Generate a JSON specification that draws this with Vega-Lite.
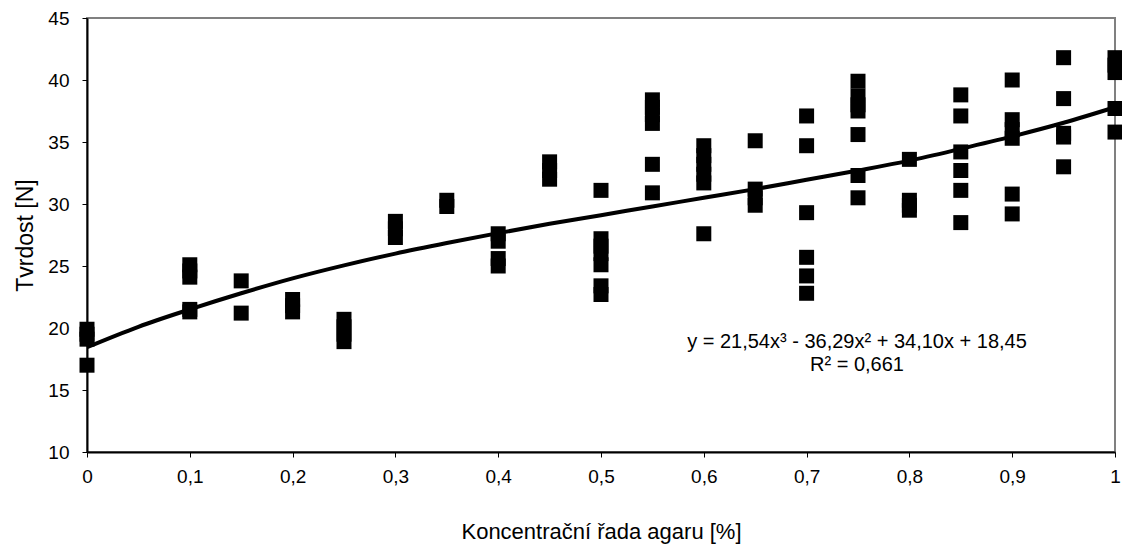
{
  "$schema": "https://vega.github.io/schema/vega-lite/v6.json",
  "width": 1028,
  "height": 434,
  "autosize": {"type": "none"},
  "padding": {"left": 87, "top": 18, "right": 7, "bottom": 94},
  "background": "white",
  "config": {
    "font": "Liberation Sans",
    "view": {"stroke": "#808080", "strokeWidth": 2},
    "axis": {
      "grid": false,
      "domainColor": "black",
      "domainWidth": 2,
      "tickColor": "black",
      "tickWidth": 1,
      "tickSize": 5,
      "labelColor": "black",
      "labelFont": "Liberation Sans",
      "labelFontSize": 19,
      "titleFont": "Liberation Sans",
      "titleFontWeight": "normal",
      "titleColor": "black"
    }
  },
  "datasets": {
    "points": [
      {"x": 0, "y": 19.9}, {"x": 0, "y": 19.5}, {"x": 0, "y": 19.1}, {"x": 0, "y": 17.0},
      {"x": 0.1, "y": 25.1}, {"x": 0.1, "y": 24.6}, {"x": 0.1, "y": 24.1}, {"x": 0.1, "y": 21.5}, {"x": 0.1, "y": 21.3},
      {"x": 0.15, "y": 23.8}, {"x": 0.15, "y": 21.2},
      {"x": 0.2, "y": 22.3}, {"x": 0.2, "y": 21.8}, {"x": 0.2, "y": 21.3},
      {"x": 0.25, "y": 20.7}, {"x": 0.25, "y": 20.1}, {"x": 0.25, "y": 19.5}, {"x": 0.25, "y": 18.9},
      {"x": 0.3, "y": 28.6}, {"x": 0.3, "y": 28.0}, {"x": 0.3, "y": 27.3},
      {"x": 0.35, "y": 30.3}, {"x": 0.35, "y": 29.8},
      {"x": 0.4, "y": 27.6}, {"x": 0.4, "y": 27.0}, {"x": 0.4, "y": 25.6}, {"x": 0.4, "y": 25.0},
      {"x": 0.45, "y": 33.4}, {"x": 0.45, "y": 32.7}, {"x": 0.45, "y": 32.0},
      {"x": 0.5, "y": 31.1}, {"x": 0.5, "y": 27.2}, {"x": 0.5, "y": 26.6}, {"x": 0.5, "y": 26.0}, {"x": 0.5, "y": 25.1}, {"x": 0.5, "y": 23.4}, {"x": 0.5, "y": 22.7},
      {"x": 0.55, "y": 38.4}, {"x": 0.55, "y": 37.8}, {"x": 0.55, "y": 37.2}, {"x": 0.55, "y": 36.5}, {"x": 0.55, "y": 33.2}, {"x": 0.55, "y": 30.9},
      {"x": 0.6, "y": 34.7}, {"x": 0.6, "y": 33.9}, {"x": 0.6, "y": 33.2}, {"x": 0.6, "y": 32.4}, {"x": 0.6, "y": 31.7}, {"x": 0.6, "y": 27.6},
      {"x": 0.65, "y": 35.1}, {"x": 0.65, "y": 31.2}, {"x": 0.65, "y": 30.5}, {"x": 0.65, "y": 29.9},
      {"x": 0.7, "y": 37.1}, {"x": 0.7, "y": 34.7}, {"x": 0.7, "y": 29.3}, {"x": 0.7, "y": 25.7}, {"x": 0.7, "y": 24.2}, {"x": 0.7, "y": 22.8},
      {"x": 0.75, "y": 39.9}, {"x": 0.75, "y": 38.7}, {"x": 0.75, "y": 38.0}, {"x": 0.75, "y": 37.5}, {"x": 0.75, "y": 35.6}, {"x": 0.75, "y": 32.3}, {"x": 0.75, "y": 30.5},
      {"x": 0.8, "y": 33.6}, {"x": 0.8, "y": 30.3}, {"x": 0.8, "y": 29.9}, {"x": 0.8, "y": 29.5},
      {"x": 0.85, "y": 38.8}, {"x": 0.85, "y": 37.1}, {"x": 0.85, "y": 34.2}, {"x": 0.85, "y": 32.7}, {"x": 0.85, "y": 31.1}, {"x": 0.85, "y": 28.5},
      {"x": 0.9, "y": 40.0}, {"x": 0.9, "y": 36.8}, {"x": 0.9, "y": 36.0}, {"x": 0.9, "y": 35.3}, {"x": 0.9, "y": 30.8}, {"x": 0.9, "y": 29.2},
      {"x": 0.95, "y": 41.8}, {"x": 0.95, "y": 38.5}, {"x": 0.95, "y": 35.7}, {"x": 0.95, "y": 35.4}, {"x": 0.95, "y": 33.0},
      {"x": 1, "y": 41.8}, {"x": 1, "y": 41.2}, {"x": 1, "y": 40.6}, {"x": 1, "y": 37.7}, {"x": 1, "y": 35.8}
    ],
    "trend": [
      {"x": 0, "y": 18.45}, {"x": 0.05, "y": 20.1}, {"x": 0.1, "y": 21.5}, {"x": 0.15, "y": 22.8},
      {"x": 0.2, "y": 24.0}, {"x": 0.25, "y": 25.05}, {"x": 0.3, "y": 26.0}, {"x": 0.35, "y": 26.85},
      {"x": 0.4, "y": 27.65}, {"x": 0.45, "y": 28.4}, {"x": 0.5, "y": 29.1}, {"x": 0.55, "y": 29.8},
      {"x": 0.6, "y": 30.5}, {"x": 0.65, "y": 31.2}, {"x": 0.7, "y": 31.95}, {"x": 0.75, "y": 32.7},
      {"x": 0.8, "y": 33.5}, {"x": 0.85, "y": 34.45}, {"x": 0.9, "y": 35.45}, {"x": 0.95, "y": 36.55},
      {"x": 1, "y": 37.8}
    ],
    "labels": [
      {"x": 0.749, "y": 18.9, "t": "y = 21,54x³ - 36,29x² + 34,10x + 18,45"},
      {"x": 0.749, "y": 17.0, "t": "R² = 0,661"}
    ]
  },
  "encoding": {
    "x": {
      "field": "x",
      "type": "quantitative",
      "scale": {"domain": [0, 1], "nice": false, "zero": false},
      "axis": {
        "values": [0, 0.1, 0.2, 0.3, 0.4, 0.5, 0.6, 0.7, 0.8, 0.9, 1],
        "format": "~g",
        "labelExpr": "replace(datum.label, '.', ',')",
        "labelPadding": 10,
        "labelFlush": false,
        "title": "Koncentrační řada agaru [%]",
        "titleFontSize": 22,
        "titleX": 514,
        "titleY": 86,
        "titleBaseline": "alphabetic",
        "titleAlign": "center"
      }
    },
    "y": {
      "field": "y",
      "type": "quantitative",
      "scale": {"domain": [10, 45], "nice": false, "zero": false},
      "axis": {
        "values": [10, 15, 20, 25, 30, 35, 40, 45],
        "labelPadding": 13,
        "title": "Tvrdost [N]",
        "titleFontSize": 23,
        "titleAngle": -90,
        "titleX": -55,
        "titleY": 217,
        "titleBaseline": "alphabetic",
        "titleAlign": "center"
      }
    }
  },
  "layer": [
    {
      "data": {"name": "points"},
      "mark": {"type": "square", "size": 225, "color": "black", "filled": true, "opacity": 1}
    },
    {
      "data": {"name": "trend"},
      "mark": {"type": "line", "color": "black", "strokeWidth": 4, "interpolate": "monotone"}
    },
    {
      "data": {"name": "labels"},
      "mark": {"type": "text", "font": "Liberation Sans", "fontSize": 20, "color": "black", "baseline": "middle", "align": "center"},
      "encoding": {
        "text": {"field": "t", "type": "nominal"}
      }
    }
  ]
}
